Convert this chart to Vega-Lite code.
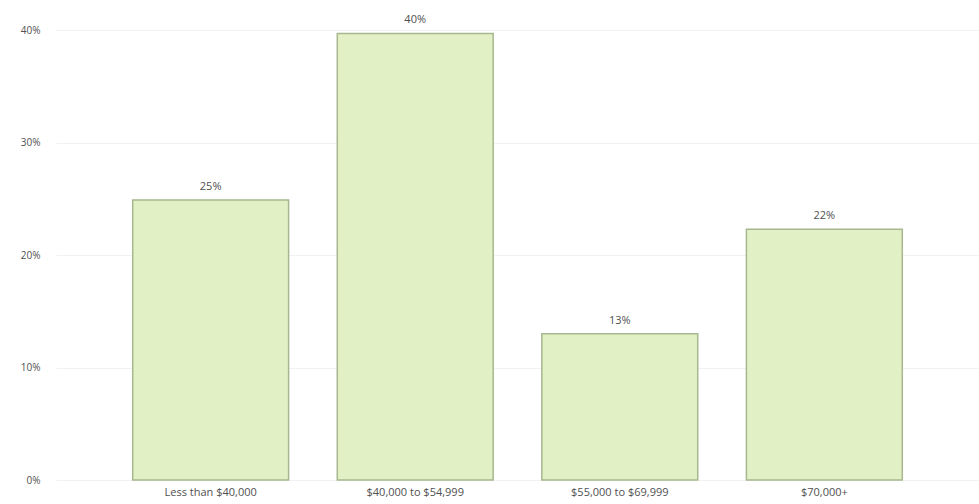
{
  "$schema": "https://vega.github.io/schema/vega-lite/v6.json",
  "autosize": "none",
  "width": 923,
  "height": 450,
  "padding": {"left": 56, "top": 30, "right": 0, "bottom": 24},
  "background": "white",
  "config": {"view": {"stroke": null}, "font": "Open Sans"},
  "data": {"values": [
    {"band": "Less than $40,000", "share": 0.249},
    {"band": "$40,000 to $54,999", "share": 0.397},
    {"band": "$55,000 to $69,999", "share": 0.13},
    {"band": "$70,000+", "share": 0.223}
  ]},
  "encoding": {
    "x": {"field": "band", "type": "nominal", "sort": null,
      "scale": {"paddingInner": 0.238, "paddingOuter": 0.375},
      "axis": {"title": null, "labelAngle": 0, "domain": false, "ticks": false, "labelPadding": 6, "labelFontSize": 11, "labelColor": "#505050"}},
    "y": {"field": "share", "type": "quantitative",
      "scale": {"domain": [0, 0.4]},
      "axis": {"title": null, "format": ".0%", "values": [0, 0.1, 0.2, 0.3, 0.4], "domain": false, "ticks": false, "labelPadding": 16, "labelFontSize": 10, "labelColor": "#505050", "gridColor": "#f2f2f2", "gridWidth": 1}}
  },
  "layer": [
    {"mark": {"type": "bar", "fill": "#e2f0c5", "stroke": "#a7b78f", "strokeWidth": 1.5}},
    {"mark": {"type": "text", "dy": -13, "fontSize": 11, "color": "#505050"},
     "encoding": {"text": {"field": "share", "type": "quantitative", "format": ".0%"}}}
  ]
}
